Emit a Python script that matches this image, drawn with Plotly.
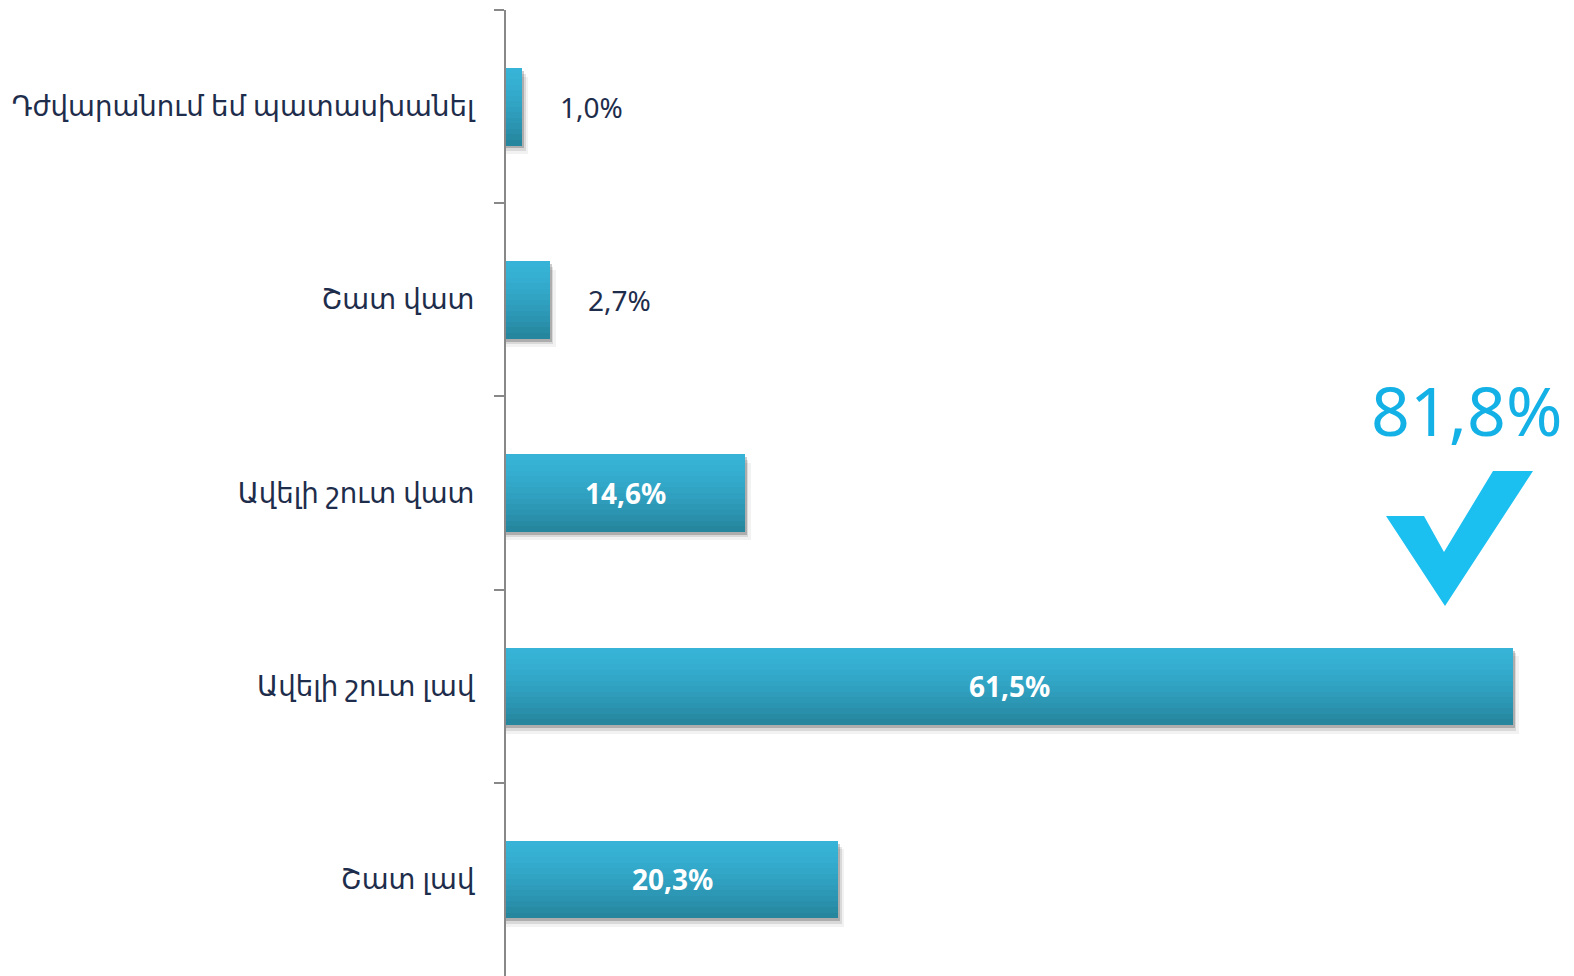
import plotly.graph_objects as go

categories = ["Դժվարանում եմ պատասխանել", "Շատ վատ", "Ավելի շուտ վատ", "Ավելի շուտ լավ", "Շատ լավ"]
values = [1.0, 2.7, 14.6, 61.5, 20.3]
inside_label = [False, False, True, True, True]
positive_total = values[3] + values[4]

def fmt(v):
    return f"{v:.1f}".replace(".", ",") + "%"

OFF = 8  # default page body margin
W, H = 1574 - OFF, 976 - OFF
ML, MR, MT, MB = 506 - OFF, 0, 10 - OFF, 0
PW, PH = W - ML - MR, H - MT - MB

BAR_W = 0.4
N_STRIPS = 14
top_rgb = (54, 179, 215)
bot_rgb = (38, 134, 158)

fig = go.Figure()

# soft shadow under bars
for dy, dx, a in [(0.045, 0.35, 0.05), (0.03, 0.2, 0.10), (0.016, 0.1, 0.20)]:
    fig.add_trace(go.Bar(
        y=categories, x=[v + dx for v in values], orientation="h",
        width=BAR_W, offset=-BAR_W / 2 + dy,
        marker=dict(color=f"rgba(0,0,0,{a})", line=dict(width=0)),
        hoverinfo="skip", showlegend=False))

# gradient bar (stacked horizontal strips)
sw = BAR_W / N_STRIPS
for i in range(N_STRIPS):
    t = (i / (N_STRIPS - 1)) ** 1.4
    c = tuple(round(top_rgb[k] + (bot_rgb[k] - top_rgb[k]) * t) for k in range(3))
    fig.add_trace(go.Bar(
        y=categories, x=values, orientation="h",
        width=sw * 1.05, offset=-BAR_W / 2 + i * sw,
        marker=dict(color=f"rgb{c}", line=dict(width=0)),
        hoverinfo="skip", showlegend=False))

annotations = []
for cat, v, ins in zip(categories, values, inside_label):
    if ins:
        annotations.append(dict(x=v / 2, y=cat, xref="x", yref="y", text=f"<b>{fmt(v)}</b>",
                                showarrow=False, xanchor="center", yanchor="middle",
                                font=dict(family="Noto Sans, DejaVu Sans", size=28, color="white")))
    else:
        annotations.append(dict(x=v, y=cat, xref="x", yref="y", text=fmt(v),
                                showarrow=False, xanchor="left", yanchor="middle", xshift=36,
                                font=dict(family="Noto Sans, DejaVu Sans", size=28, color="#1e2d4b")))

# decoration placed in page pixel positions converted to paper coordinates (plot area)
def px(x):
    return (x - OFF - ML) / PW
def py(y):
    return 1 - (y - OFF - MT) / PH

annotations.append(dict(x=px(1466), y=py(410), xref="paper", yref="paper", text=fmt(positive_total),
                        showarrow=False, xanchor="center", yanchor="middle",
                        font=dict(family="Noto Sans, Open Sans", size=68, color="#14b1e6")))

check = [(1386, 516), (1424, 516), (1444, 552), (1493, 471), (1533, 471), (1445, 606)]
path = "M " + " L ".join(f"{px(x):.5f},{py(y):.5f}" for x, y in check) + " Z"

fig.update_layout(
    width=W, height=H,
    margin=dict(l=ML, r=MR, t=MT, b=MB, autoexpand=False),
    paper_bgcolor="white", plot_bgcolor="white",
    barmode="overlay", bargap=0,
    showlegend=False,
    annotations=annotations,
    shapes=[dict(type="path", xref="paper", yref="paper", path=path,
                 fillcolor="#1bbff0", line=dict(width=0), layer="above")],
    xaxis=dict(range=[0, PW / (1007 / 61.5)], visible=False, fixedrange=True, automargin=False),
    yaxis=dict(type="category", categoryorder="array", categoryarray=categories,
               range=[4.5, -0.5], tickson="boundaries", ticks="outside", ticklen=10,
               tickcolor="#888888", tickwidth=2, showline=True, linecolor="#888888",
               linewidth=2, showgrid=False, zeroline=False, ticklabelstandoff=24,
               automargin=False,
               tickfont=dict(family="Noto Sans, DejaVu Sans", size=27.6, color="#1e2d4b")),
)

fig.write_html("out.html")
